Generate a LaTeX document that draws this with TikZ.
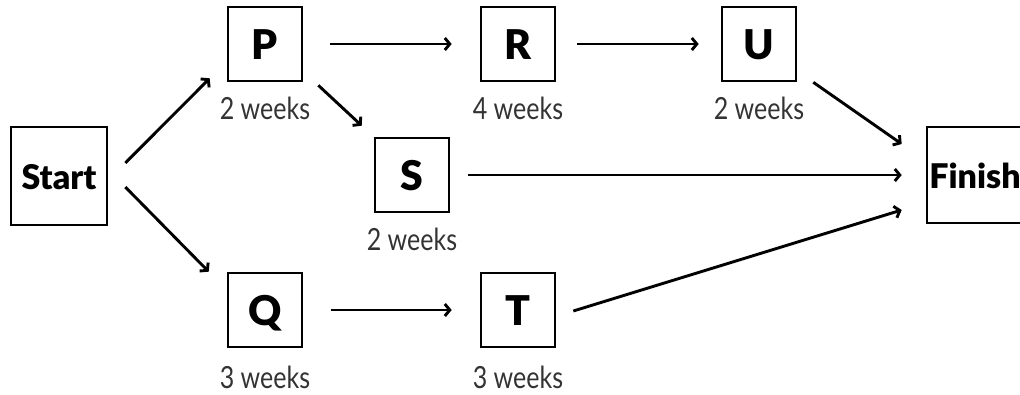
\documentclass[tikz,border=0pt]{standalone}
\usepackage{fontspec}
\setmainfont{Lato}
\newfontfamily\heavyfont{Lato Black}
\newfontfamily\lblfont{Lato}[FakeStretch=0.82]
\usetikzlibrary{arrows.meta}

\tikzset{
  task/.style={draw, line width=2.6pt, minimum size=74pt, inner sep=0pt,
    text height=30pt, text depth=0pt,
    font=\heavyfont\fontsize{41}{41}\selectfont},
  terminal/.style={draw, line width=2.6pt, minimum width=96pt, minimum height=98pt,
    inner sep=0pt, text height=26pt, text depth=0pt,
    font=\heavyfont\fontsize{34}{34}\selectfont},
  dur/.style={anchor=base, inner sep=0pt,
    font=\lblfont\fontsize{30.5}{30.5}\selectfont, text=black!80},
  arr/.style={line width=2.9pt, -{Straight Barb[length=5pt,width=12pt]}},
}

\begin{document}
\begin{tikzpicture}[x=1pt, y=-1pt]
\useasboundingbox (0,0) rectangle (1020,394);

% activity boxes
\node[terminal] (Start) at (59,176) {Start};
\node[task] (P) at (265,44) {P};
\node[task] (R) at (518,44) {R};
\node[task] (U) at (759,44) {U};
\node[task] (S) at (412,175) {S};
\node[task] (Q) at (265,310) {Q};
\node[task] (T) at (518,310) {T};
\node[terminal, minimum height=96pt] (Finish) at (975,175) {Finish};

% durations
\node[dur] (lP) at (265,119) {2 weeks};
\node[dur] (lR) at (518,119) {4 weeks};
\node[dur] (lU) at (759,119) {2 weeks};
\node[dur] (lS) at (412,250) {2 weeks};
\node[dur] (lQ) at (265,388) {3 weeks};
\node[dur] (lT) at (518,388) {3 weeks};

% precedence arrows
\draw[arr] ([shift={(17,-13)}]Start.east) -- ([shift={(-17,-4)}]P.south west);
\draw[arr] ([shift={(17,11)}]Start.east) -- ([shift={(-18,0)}]Q.north west);
\draw[arr] ([shift={(15,3)}]P.south east) -- ([shift={(-12,-11)}]S.north west);
\draw[arr] ([shift={(27,0)}]P.east) -- ([shift={(-28,0)}]R.west);
\draw[arr] ([shift={(21,0)}]R.east) -- ([shift={(-22,0)}]U.west);
\draw[arr] ([shift={(28,0)}]Q.east) -- ([shift={(-28,0)}]T.west);
\draw[arr] ([shift={(16,0)}]U.south east) -- ([shift={(-24,-31)}]Finish.west);
\draw[arr] ([shift={(18,0)}]S.east) -- ([shift={(-24,0)}]Finish.west);
\draw[arr] ([shift={(17,1)}]T.east) -- ([shift={(-24,35)}]Finish.west);
\end{tikzpicture}
\end{document}
